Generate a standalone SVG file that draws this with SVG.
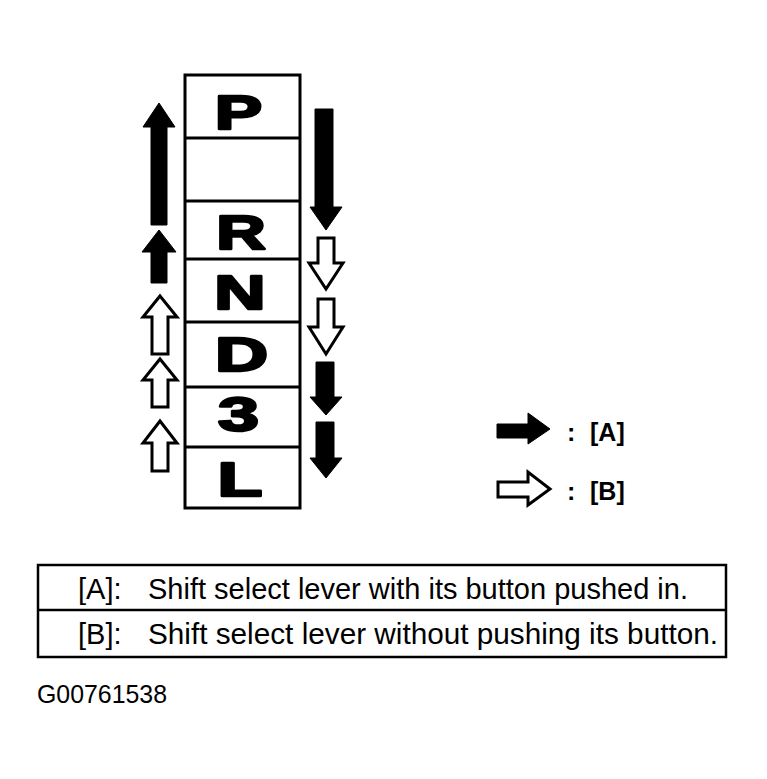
<svg xmlns="http://www.w3.org/2000/svg" width="767" height="779" viewBox="0 0 767 779">
<style>
.box{fill:#fff;stroke:#000;stroke-width:3}
.sep{stroke:#000;stroke-width:3}
.gear{font-family:"Liberation Sans",Arial,sans-serif;font-weight:bold;font-size:49px;fill:#000;stroke:#000;stroke-width:2.5;stroke-linejoin:round;text-anchor:middle}
.solid{fill:#000;stroke:#000;stroke-width:1;stroke-linejoin:miter}
.hollow{fill:#fff;stroke:#000;stroke-width:3;stroke-linejoin:miter}
.leg{font-family:"Liberation Sans",Arial,sans-serif;font-weight:bold;font-size:25px;fill:#000}
.tbl{font-family:"Liberation Sans",Arial,sans-serif;font-size:29px;fill:#000}
.code{font-family:"Liberation Sans",Arial,sans-serif;font-size:25px;fill:#000}
</style>
<rect width="767" height="779" fill="#fff"/>

<g id="selector">
  <rect class="box" x="185" y="75" width="115" height="433"/>
  <line class="sep" x1="185" y1="138" x2="300" y2="138"/>
  <line class="sep" x1="185" y1="201" x2="300" y2="201"/>
  <line class="sep" x1="185" y1="259" x2="300" y2="259"/>
  <line class="sep" x1="185" y1="322" x2="300" y2="322"/>
  <line class="sep" x1="185" y1="387" x2="300" y2="387"/>
  <line class="sep" x1="185" y1="447" x2="300" y2="447"/>
</g>
<g id="pos-P"><text class="gear" transform="translate(238.5,129) scale(1.45,1)">P</text></g>
<g id="pos-R"><text class="gear" transform="translate(241,249) scale(1.4,1)">R</text></g>
<g id="pos-N"><text class="gear" transform="translate(240,309) scale(1.45,1)">N</text></g>
<g id="pos-D"><text class="gear" transform="translate(241.5,371) scale(1.5,1)">D</text></g>
<g id="pos-3"><text class="gear" transform="translate(238.5,431) scale(1.5,1)">3</text></g>
<g id="pos-L"><text class="gear" transform="translate(240,496) scale(1.5,1)">L</text></g>

<g id="connectors">
  <polygon class="solid" points="159,103 175,127 167,127 167,225 151,225 151,127 143,127"/>
  <polygon class="solid" points="159,230 176,252 167,252 167,283 151,283 151,252 142,252"/>
  <polygon class="hollow" points="160,296 177,317 168,317 168,354 152,354 152,317 143,317"/>
  <polygon class="hollow" points="160,359 177,380 168,380 168,407 152,407 152,380 143,380"/>
  <polygon class="hollow" points="160,421 177,443 168,443 168,471 152,471 152,443 143,443"/>
  <polygon class="solid" points="315,109 333,109 333,207 342,207 326,230 310,207 315,207"/>
  <polygon class="hollow" points="318,238 334,238 334,263 343,263 326,289 309,263 318,263"/>
  <polygon class="hollow" points="318,299 334,299 334,327 343,327 326,354 309,327 318,327"/>
  <polygon class="solid" points="316,362 334,362 334,397 342,397 326,415 310,397 316,397"/>
  <polygon class="solid" points="316,422 334,422 334,458 342,458 326,478 310,458 316,458"/>
</g>

<g id="legend-A">
  <polygon class="solid" points="497,424 528,424 528,413 550,429 528,444 528,438 497,438"/>
  <text class="leg" x="567" y="441">:</text>
  <text class="leg" x="590" y="441">[A]</text>
</g>
<g id="legend-B">
  <polygon class="hollow" points="498,482 528,482 528,472 550,489 528,505 528,497 498,497"/>
  <text class="leg" x="567" y="500">:</text>
  <text class="leg" x="590" y="500">[B]</text>
</g>

<g id="table">
  <rect x="38" y="565" width="688" height="92" fill="#fff" stroke="#000" stroke-width="2.5"/>
  <line x1="38" y1="610" x2="726" y2="610" stroke="#000" stroke-width="2.5"/>
  <text class="tbl" x="78" y="599">[A]:</text>
  <text class="tbl" x="148" y="599" textLength="540" lengthAdjust="spacingAndGlyphs">Shift select lever with its button pushed in.</text>
  <text class="tbl" x="78" y="644">[B]:</text>
  <text class="tbl" x="148" y="644" textLength="570" lengthAdjust="spacingAndGlyphs">Shift select lever without pushing its button.</text>
</g>

<g id="figure-code">
  <text class="code" x="37" y="703" textLength="130" lengthAdjust="spacingAndGlyphs">G00761538</text>
</g>
</svg>
